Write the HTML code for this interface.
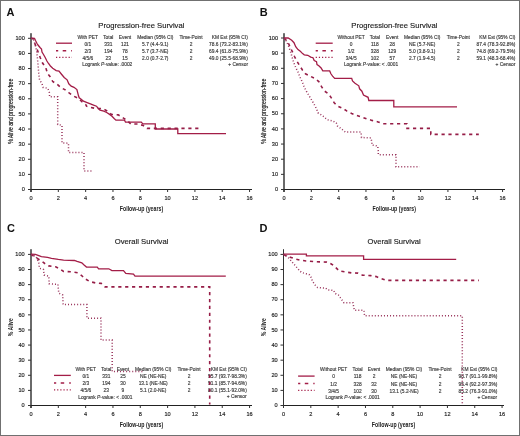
<!DOCTYPE html>
<html><head><meta charset="utf-8"><style>
html,body{margin:0;padding:0;background:#fff;}
body{width:520px;height:436px;overflow:hidden;}
svg{display:block;font-family:"Liberation Sans",sans-serif;will-change:transform;}
</style></head><body>
<svg width="520" height="436" viewBox="0 0 520 436">
<g >
<rect x="0" y="0" width="520" height="436" fill="#fff"/>
<rect x="30.00" y="33.2" width="2.0" height="158.80" fill="#6a6a6a"/>
<rect x="31.00" y="189.00" width="221.00" height="1" fill="#222"/>
<rect x="28.00" y="189.00" width="3" height="1" fill="#333"/>
<text x="24.8" y="191.20" text-anchor="end" font-size="5.6" fill="#222" stroke="#222" stroke-width="0.15">0</text>
<rect x="28.00" y="173.88" width="3" height="1" fill="#333"/>
<text x="24.8" y="176.08" text-anchor="end" font-size="5.6" fill="#222" stroke="#222" stroke-width="0.15">10</text>
<rect x="28.00" y="158.76" width="3" height="1" fill="#333"/>
<text x="24.8" y="160.96" text-anchor="end" font-size="5.6" fill="#222" stroke="#222" stroke-width="0.15">20</text>
<rect x="28.00" y="143.64" width="3" height="1" fill="#333"/>
<text x="24.8" y="145.84" text-anchor="end" font-size="5.6" fill="#222" stroke="#222" stroke-width="0.15">30</text>
<rect x="28.00" y="128.52" width="3" height="1" fill="#333"/>
<text x="24.8" y="130.72" text-anchor="end" font-size="5.6" fill="#222" stroke="#222" stroke-width="0.15">40</text>
<rect x="28.00" y="113.40" width="3" height="1" fill="#333"/>
<text x="24.8" y="115.60" text-anchor="end" font-size="5.6" fill="#222" stroke="#222" stroke-width="0.15">50</text>
<rect x="28.00" y="98.28" width="3" height="1" fill="#333"/>
<text x="24.8" y="100.48" text-anchor="end" font-size="5.6" fill="#222" stroke="#222" stroke-width="0.15">60</text>
<rect x="28.00" y="83.16" width="3" height="1" fill="#333"/>
<text x="24.8" y="85.36" text-anchor="end" font-size="5.6" fill="#222" stroke="#222" stroke-width="0.15">70</text>
<rect x="28.00" y="68.04" width="3" height="1" fill="#333"/>
<text x="24.8" y="70.24" text-anchor="end" font-size="5.6" fill="#222" stroke="#222" stroke-width="0.15">80</text>
<rect x="28.00" y="52.92" width="3" height="1" fill="#333"/>
<text x="24.8" y="55.12" text-anchor="end" font-size="5.6" fill="#222" stroke="#222" stroke-width="0.15">90</text>
<rect x="28.00" y="37.80" width="3" height="1" fill="#333"/>
<text x="24.8" y="40.00" text-anchor="end" font-size="5.6" fill="#222" stroke="#222" stroke-width="0.15">100</text>
<rect x="30.50" y="189.50" width="1" height="2.5" fill="#333"/>
<text x="31.00" y="200.30" text-anchor="middle" font-size="5.6" fill="#222" stroke="#222" stroke-width="0.15">0</text>
<rect x="57.82" y="189.50" width="1" height="2.5" fill="#333"/>
<text x="58.32" y="200.30" text-anchor="middle" font-size="5.6" fill="#222" stroke="#222" stroke-width="0.15">2</text>
<rect x="85.14" y="189.50" width="1" height="2.5" fill="#333"/>
<text x="85.64" y="200.30" text-anchor="middle" font-size="5.6" fill="#222" stroke="#222" stroke-width="0.15">4</text>
<rect x="112.46" y="189.50" width="1" height="2.5" fill="#333"/>
<text x="112.96" y="200.30" text-anchor="middle" font-size="5.6" fill="#222" stroke="#222" stroke-width="0.15">6</text>
<rect x="139.78" y="189.50" width="1" height="2.5" fill="#333"/>
<text x="140.28" y="200.30" text-anchor="middle" font-size="5.6" fill="#222" stroke="#222" stroke-width="0.15">8</text>
<rect x="167.10" y="189.50" width="1" height="2.5" fill="#333"/>
<text x="167.60" y="200.30" text-anchor="middle" font-size="5.6" fill="#222" stroke="#222" stroke-width="0.15">10</text>
<rect x="194.42" y="189.50" width="1" height="2.5" fill="#333"/>
<text x="194.92" y="200.30" text-anchor="middle" font-size="5.6" fill="#222" stroke="#222" stroke-width="0.15">12</text>
<rect x="221.74" y="189.50" width="1" height="2.5" fill="#333"/>
<text x="222.24" y="200.30" text-anchor="middle" font-size="5.6" fill="#222" stroke="#222" stroke-width="0.15">14</text>
<rect x="249.06" y="189.50" width="1" height="2.5" fill="#333"/>
<text x="249.56" y="200.30" text-anchor="middle" font-size="5.6" fill="#222" stroke="#222" stroke-width="0.15">16</text>
<text x="98.3" y="28" font-size="7.8" fill="#222" stroke="#222" stroke-width="0.15" textLength="86.1" lengthAdjust="spacingAndGlyphs">Progression-free Survival</text>
<text x="6.5" y="15.8" font-size="11" font-weight="bold" fill="#111">A</text>
<text transform="translate(13.00,111.30) rotate(-90) scale(0.73,1)" text-anchor="middle" font-size="7" stroke="#222" stroke-width="0.22" fill="#222">% Alive and progression-free</text>
<text transform="translate(141.45,211.30) scale(0.75,1)" text-anchor="middle" font-size="7" font-weight="bold" fill="#222">Follow-up (years)</text>
<g font-size="4.85" fill="#3c3c3c" stroke="#3c3c3c" stroke-width="0.15" text-anchor="middle">
<text x="87.8" y="39.00">With PET</text>
<text x="108.3" y="39.00">Total</text>
<text x="125.0" y="39.00">Event</text>
<text x="155.3" y="39.00">Median (95% CI)</text>
<text x="191.0" y="39.00">Time-Point</text>
<text x="247.8" y="39.00" text-anchor="end">KM Est (95% CI)</text>
<text x="87.8" y="46.00">0/1</text>
<text x="108.3" y="46.00">331</text>
<text x="125.0" y="46.00">121</text>
<text x="155.3" y="46.00">5.7 (4.4-9.1)</text>
<text x="191.0" y="46.00">2</text>
<text x="247.8" y="46.00" text-anchor="end">78.6 (73.2-83.1%)</text>
<text x="87.8" y="53.00">2/3</text>
<text x="108.3" y="53.00">194</text>
<text x="125.0" y="53.00">78</text>
<text x="155.3" y="53.00">5.7 (3.7-NE)</text>
<text x="191.0" y="53.00">2</text>
<text x="247.8" y="53.00" text-anchor="end">69.4 (61.8-75.9%)</text>
<text x="87.8" y="60.00">4/5/6</text>
<text x="108.3" y="60.00">23</text>
<text x="125.0" y="60.00">15</text>
<text x="155.3" y="60.00">2.0 (0.7-2.7)</text>
<text x="191.0" y="60.00">2</text>
<text x="247.8" y="60.00" text-anchor="end">49.0 (25.5-68.9%)</text>
<text x="82.2" y="66.00" text-anchor="start">Logrank <tspan font-style="italic">P</tspan>-value: .0002</text>
<text x="248.0" y="66" text-anchor="end">+ Censor</text>
</g>
<line x1="56" y1="43.2" x2="72" y2="43.2" stroke="#a31d47" stroke-width="1.3" fill="none" stroke-width="1.6"/>
<line x1="56" y1="50.7" x2="72" y2="50.7" stroke="#a31d47" stroke-width="1.5" stroke-dasharray="2.2 4.5 3.5 5 2" />
<line x1="56" y1="57.3" x2="72" y2="57.3" stroke="#a31d47" stroke-width="1.2" stroke-dasharray="1.2 1.95" />
<polyline points="31,38.3 34.5,38.3 35.5,40.5 37,43.5 38,45 40,47.5 41.5,49 42,52 43.5,54.5 45.2,57.5 46.9,61 48.5,63.5 50.4,66 52.7,68.3 56.2,70.6 59,71.2 61.3,74 64.2,77.5 67.1,79.8 68.8,83.8 71.2,86.2 74,87.3 76.9,89.6 78.5,95.8 79.2,97.8 81.2,99.3 83.5,101.2 86.5,102.4 90.4,103.9 93.5,105.1 96.5,106.2 98.1,108.2 100,110.1 103.8,111.1 106.7,112.5 109.6,114.4 112,116.3 114.4,118.8 115.9,120.2 124.5,120.2 125.5,122.1 141.3,122.1 142.8,123.9 155.3,123.9 155.3,129 177.8,129 177.8,133.7 226,133.7" stroke="#a31d47" stroke-width="1.3" fill="none"/>
<polyline points="31,38.3 33,38.5 34.4,42.5 36.5,47.7 38.3,52.5 40.3,57.7 42.4,62.8 45.8,67.7 47.5,73.5 50.4,76.9 52.7,81.5 57.3,84.4 61.3,87.9 64.8,89.6 69.4,93.1 73.5,96 78.1,98.3 81.9,101.6 85.8,104.7 86.5,106.2 90.8,107.4 95.8,108.5 103.4,108.7 107,111 111.5,114.4 118.3,114.9 123.1,117.8 127.4,120.7 130.8,124 138,124 143.3,125.5 147.1,128.4 199,128.4" stroke="#961d47" stroke-width="1.6" fill="none" stroke-dasharray="3.2 3.7"/>
<polyline points="31,38.3 32.5,38.5 33.7,39.7 35.1,44.8 36.6,50.7 37.4,58 38.1,65.4 38.8,74.2 39.6,80.1 41.8,83.1 43.2,87.5 47.6,88.2 49.3,91.9 49.6,96.8 57.7,96.8 57.7,124.4 61.2,125.2 62,125.2 62,142.9 68.5,143.2 68.5,152.5 84,152.5 84,171 92,171" stroke="#98325a" stroke-width="1.5" fill="none" stroke-dasharray="1 2.05"/>
<rect x="283.00" y="33.2" width="2.0" height="158.80" fill="#6a6a6a"/>
<rect x="284.00" y="189.00" width="221.00" height="1" fill="#222"/>
<rect x="281.00" y="189.00" width="3" height="1" fill="#333"/>
<text x="278.0" y="191.20" text-anchor="end" font-size="5.6" fill="#222" stroke="#222" stroke-width="0.15">0</text>
<rect x="281.00" y="173.85" width="3" height="1" fill="#333"/>
<text x="278.0" y="176.05" text-anchor="end" font-size="5.6" fill="#222" stroke="#222" stroke-width="0.15">10</text>
<rect x="281.00" y="158.70" width="3" height="1" fill="#333"/>
<text x="278.0" y="160.90" text-anchor="end" font-size="5.6" fill="#222" stroke="#222" stroke-width="0.15">20</text>
<rect x="281.00" y="143.55" width="3" height="1" fill="#333"/>
<text x="278.0" y="145.75" text-anchor="end" font-size="5.6" fill="#222" stroke="#222" stroke-width="0.15">30</text>
<rect x="281.00" y="128.40" width="3" height="1" fill="#333"/>
<text x="278.0" y="130.60" text-anchor="end" font-size="5.6" fill="#222" stroke="#222" stroke-width="0.15">40</text>
<rect x="281.00" y="113.25" width="3" height="1" fill="#333"/>
<text x="278.0" y="115.45" text-anchor="end" font-size="5.6" fill="#222" stroke="#222" stroke-width="0.15">50</text>
<rect x="281.00" y="98.10" width="3" height="1" fill="#333"/>
<text x="278.0" y="100.30" text-anchor="end" font-size="5.6" fill="#222" stroke="#222" stroke-width="0.15">60</text>
<rect x="281.00" y="82.95" width="3" height="1" fill="#333"/>
<text x="278.0" y="85.15" text-anchor="end" font-size="5.6" fill="#222" stroke="#222" stroke-width="0.15">70</text>
<rect x="281.00" y="67.80" width="3" height="1" fill="#333"/>
<text x="278.0" y="70.00" text-anchor="end" font-size="5.6" fill="#222" stroke="#222" stroke-width="0.15">80</text>
<rect x="281.00" y="52.65" width="3" height="1" fill="#333"/>
<text x="278.0" y="54.85" text-anchor="end" font-size="5.6" fill="#222" stroke="#222" stroke-width="0.15">90</text>
<rect x="281.00" y="37.50" width="3" height="1" fill="#333"/>
<text x="278.0" y="39.70" text-anchor="end" font-size="5.6" fill="#222" stroke="#222" stroke-width="0.15">100</text>
<rect x="283.50" y="189.50" width="1" height="2.5" fill="#333"/>
<text x="284.00" y="200.30" text-anchor="middle" font-size="5.6" fill="#222" stroke="#222" stroke-width="0.15">0</text>
<rect x="310.82" y="189.50" width="1" height="2.5" fill="#333"/>
<text x="311.32" y="200.30" text-anchor="middle" font-size="5.6" fill="#222" stroke="#222" stroke-width="0.15">2</text>
<rect x="338.14" y="189.50" width="1" height="2.5" fill="#333"/>
<text x="338.64" y="200.30" text-anchor="middle" font-size="5.6" fill="#222" stroke="#222" stroke-width="0.15">4</text>
<rect x="365.46" y="189.50" width="1" height="2.5" fill="#333"/>
<text x="365.96" y="200.30" text-anchor="middle" font-size="5.6" fill="#222" stroke="#222" stroke-width="0.15">6</text>
<rect x="392.78" y="189.50" width="1" height="2.5" fill="#333"/>
<text x="393.28" y="200.30" text-anchor="middle" font-size="5.6" fill="#222" stroke="#222" stroke-width="0.15">8</text>
<rect x="420.10" y="189.50" width="1" height="2.5" fill="#333"/>
<text x="420.60" y="200.30" text-anchor="middle" font-size="5.6" fill="#222" stroke="#222" stroke-width="0.15">10</text>
<rect x="447.42" y="189.50" width="1" height="2.5" fill="#333"/>
<text x="447.92" y="200.30" text-anchor="middle" font-size="5.6" fill="#222" stroke="#222" stroke-width="0.15">12</text>
<rect x="474.74" y="189.50" width="1" height="2.5" fill="#333"/>
<text x="475.24" y="200.30" text-anchor="middle" font-size="5.6" fill="#222" stroke="#222" stroke-width="0.15">14</text>
<rect x="502.06" y="189.50" width="1" height="2.5" fill="#333"/>
<text x="502.56" y="200.30" text-anchor="middle" font-size="5.6" fill="#222" stroke="#222" stroke-width="0.15">16</text>
<text x="351.3" y="28" font-size="7.8" fill="#222" stroke="#222" stroke-width="0.15" textLength="86.1" lengthAdjust="spacingAndGlyphs">Progression-free Survival</text>
<text x="259.8" y="15.8" font-size="11" font-weight="bold" fill="#111">B</text>
<text transform="translate(266.30,111.30) rotate(-90) scale(0.73,1)" text-anchor="middle" font-size="7" stroke="#222" stroke-width="0.22" fill="#222">% Alive and progression-free</text>
<text transform="translate(394.25,211.20) scale(0.75,1)" text-anchor="middle" font-size="7" font-weight="bold" fill="#222">Follow-up (years)</text>
<g font-size="4.85" fill="#3c3c3c" stroke="#3c3c3c" stroke-width="0.15" text-anchor="middle">
<text x="351.2" y="39.00">Without PET</text>
<text x="374.9" y="39.00">Total</text>
<text x="392.2" y="39.00">Event</text>
<text x="422.2" y="39.00">Median (95% CI)</text>
<text x="458.3" y="39.00">Time-Point</text>
<text x="515.4" y="39.00" text-anchor="end">KM Est (95% CI)</text>
<text x="351.2" y="46.00">0</text>
<text x="374.9" y="46.00">118</text>
<text x="392.2" y="46.00">28</text>
<text x="422.2" y="46.00">NE (5.7-NE)</text>
<text x="458.3" y="46.00">2</text>
<text x="515.4" y="46.00" text-anchor="end">87.4 (78.3-92.8%)</text>
<text x="351.2" y="53.00">1/2</text>
<text x="374.9" y="53.00">328</text>
<text x="392.2" y="53.00">129</text>
<text x="422.2" y="53.00">5.0 (3.8-9.1)</text>
<text x="458.3" y="53.00">2</text>
<text x="515.4" y="53.00" text-anchor="end">74.8 (69.2-79.5%)</text>
<text x="351.2" y="60.00">3/4/5</text>
<text x="374.9" y="60.00">102</text>
<text x="392.2" y="60.00">57</text>
<text x="422.2" y="60.00">2.7 (1.9-4.5)</text>
<text x="458.3" y="60.00">2</text>
<text x="515.4" y="60.00" text-anchor="end">59.1 (48.3-68.4%)</text>
<text x="343.9" y="66.00" text-anchor="start">Logrank <tspan font-style="italic">P</tspan>-value: < .0001</text>
<text x="515.4" y="66" text-anchor="end">+ Censor</text>
</g>
<line x1="315.7" y1="43.2" x2="332.7" y2="43.2" stroke="#a31d47" stroke-width="1.3" fill="none" stroke-width="1.6"/>
<line x1="315.7" y1="50.7" x2="332.7" y2="50.7" stroke="#a31d47" stroke-width="1.5" stroke-dasharray="2.2 4.5 3.5 5 2" />
<line x1="315.7" y1="57.4" x2="332.7" y2="57.4" stroke="#a31d47" stroke-width="1.2" stroke-dasharray="1.2 1.95" />
<polyline points="284,38 288.2,38 291.7,40.3 294,42.7 295.7,46.7 298,49.6 300.3,51.3 302.6,53.6 304.3,54.8 307.8,55.3 310.7,57.1 313,57.7 314.2,60.5 316.5,61.7 317,64.6 318.8,65.7 321.1,68 322.8,70.9 329.7,70.9 330.9,73.8 332.6,76.1 334.7,78.4 351.7,78.4 352.5,81 355,83.3 358.8,85.8 359.6,88.8 361.9,91.2 363.5,95 368.1,97.3 368.8,100.5 393.8,100.5 393.8,106.9 457,106.9" stroke="#a31d47" stroke-width="1.3" fill="none"/>
<polyline points="284,38 285.3,39.2 288.2,42.7 289.9,46.7 292.2,51.3 294.5,56.5 296.8,61.1 299.7,65.7 302.6,70.3 305.5,73.8 310.1,76.1 314.7,78.4 318.8,81.5 321.7,86.9 324.4,91 328.5,93.8 331.3,97.9 334.2,102.8 337.9,106.2 342.5,108.2 346.7,110.9 351.7,113.5 356.5,115.3 361.2,116.8 366.5,118.8 371.9,120.4 378.1,121.9 382.7,123.7 407,123.7 407,128.4 430.8,128.4 430.8,134.4 478.8,134.4" stroke="#961d47" stroke-width="1.6" fill="none" stroke-dasharray="3.2 3.7"/>
<polyline points="284,38 285.9,40.3 288.8,46.7 291.1,53.6 293.4,61.7 295.7,67.5 298,72.1 300.3,77.8 302.3,82 304.2,86.9 306.5,91.5 310,97.3 313.5,103.1 316.3,108.3 318.1,112.9 322.7,115.8 327.3,119.8 333.1,121 336.3,123 337.3,125.8 341.9,129.2 345.4,132.1 361,132.1 361.5,137.5 370.8,137.9 371.9,141.9 371.9,145 377.7,146 378.3,151.2 378.3,154.7 396,154.7 396,166.8 419.6,166.8" stroke="#98325a" stroke-width="1.5" fill="none" stroke-dasharray="1 2.05"/>
<rect x="30.00" y="249.2" width="2.0" height="158.80" fill="#6a6a6a"/>
<rect x="31.00" y="405.00" width="221.00" height="1" fill="#222"/>
<rect x="28.00" y="405.00" width="3" height="1" fill="#333"/>
<text x="24.7" y="407.20" text-anchor="end" font-size="5.6" fill="#222" stroke="#222" stroke-width="0.15">0</text>
<rect x="28.00" y="389.89" width="3" height="1" fill="#333"/>
<text x="24.7" y="392.09" text-anchor="end" font-size="5.6" fill="#222" stroke="#222" stroke-width="0.15">10</text>
<rect x="28.00" y="374.78" width="3" height="1" fill="#333"/>
<text x="24.7" y="376.98" text-anchor="end" font-size="5.6" fill="#222" stroke="#222" stroke-width="0.15">20</text>
<rect x="28.00" y="359.67" width="3" height="1" fill="#333"/>
<text x="24.7" y="361.87" text-anchor="end" font-size="5.6" fill="#222" stroke="#222" stroke-width="0.15">30</text>
<rect x="28.00" y="344.56" width="3" height="1" fill="#333"/>
<text x="24.7" y="346.76" text-anchor="end" font-size="5.6" fill="#222" stroke="#222" stroke-width="0.15">40</text>
<rect x="28.00" y="329.45" width="3" height="1" fill="#333"/>
<text x="24.7" y="331.65" text-anchor="end" font-size="5.6" fill="#222" stroke="#222" stroke-width="0.15">50</text>
<rect x="28.00" y="314.34" width="3" height="1" fill="#333"/>
<text x="24.7" y="316.54" text-anchor="end" font-size="5.6" fill="#222" stroke="#222" stroke-width="0.15">60</text>
<rect x="28.00" y="299.23" width="3" height="1" fill="#333"/>
<text x="24.7" y="301.43" text-anchor="end" font-size="5.6" fill="#222" stroke="#222" stroke-width="0.15">70</text>
<rect x="28.00" y="284.12" width="3" height="1" fill="#333"/>
<text x="24.7" y="286.32" text-anchor="end" font-size="5.6" fill="#222" stroke="#222" stroke-width="0.15">80</text>
<rect x="28.00" y="269.01" width="3" height="1" fill="#333"/>
<text x="24.7" y="271.21" text-anchor="end" font-size="5.6" fill="#222" stroke="#222" stroke-width="0.15">90</text>
<rect x="28.00" y="253.90" width="3" height="1" fill="#333"/>
<text x="24.7" y="256.10" text-anchor="end" font-size="5.6" fill="#222" stroke="#222" stroke-width="0.15">100</text>
<rect x="30.50" y="405.50" width="1" height="2.5" fill="#333"/>
<text x="31.00" y="416.30" text-anchor="middle" font-size="5.6" fill="#222" stroke="#222" stroke-width="0.15">0</text>
<rect x="57.82" y="405.50" width="1" height="2.5" fill="#333"/>
<text x="58.32" y="416.30" text-anchor="middle" font-size="5.6" fill="#222" stroke="#222" stroke-width="0.15">2</text>
<rect x="85.14" y="405.50" width="1" height="2.5" fill="#333"/>
<text x="85.64" y="416.30" text-anchor="middle" font-size="5.6" fill="#222" stroke="#222" stroke-width="0.15">4</text>
<rect x="112.46" y="405.50" width="1" height="2.5" fill="#333"/>
<text x="112.96" y="416.30" text-anchor="middle" font-size="5.6" fill="#222" stroke="#222" stroke-width="0.15">6</text>
<rect x="139.78" y="405.50" width="1" height="2.5" fill="#333"/>
<text x="140.28" y="416.30" text-anchor="middle" font-size="5.6" fill="#222" stroke="#222" stroke-width="0.15">8</text>
<rect x="167.10" y="405.50" width="1" height="2.5" fill="#333"/>
<text x="167.60" y="416.30" text-anchor="middle" font-size="5.6" fill="#222" stroke="#222" stroke-width="0.15">10</text>
<rect x="194.42" y="405.50" width="1" height="2.5" fill="#333"/>
<text x="194.92" y="416.30" text-anchor="middle" font-size="5.6" fill="#222" stroke="#222" stroke-width="0.15">12</text>
<rect x="221.74" y="405.50" width="1" height="2.5" fill="#333"/>
<text x="222.24" y="416.30" text-anchor="middle" font-size="5.6" fill="#222" stroke="#222" stroke-width="0.15">14</text>
<rect x="249.06" y="405.50" width="1" height="2.5" fill="#333"/>
<text x="249.56" y="416.30" text-anchor="middle" font-size="5.6" fill="#222" stroke="#222" stroke-width="0.15">16</text>
<text x="114.7" y="244" font-size="7.8" fill="#222" stroke="#222" stroke-width="0.15" textLength="53.7" lengthAdjust="spacingAndGlyphs">Overall Survival</text>
<text x="6.9" y="231.9" font-size="11" font-weight="bold" fill="#111">C</text>
<text transform="translate(13.00,327.20) rotate(-90) scale(0.73,1)" text-anchor="middle" font-size="7" font-weight="bold" fill="#222">% Alive</text>
<text transform="translate(141.45,427.30) scale(0.75,1)" text-anchor="middle" font-size="7" font-weight="bold" fill="#222">Follow-up (years)</text>
<g font-size="4.85" fill="#3c3c3c" stroke="#3c3c3c" stroke-width="0.15" text-anchor="middle">
<text x="85.8" y="371.00">With PET</text>
<text x="106.3" y="371.00">Total</text>
<text x="122.9" y="371.00">Event</text>
<text x="153.2" y="371.00">Median (95% CI)</text>
<text x="189.0" y="371.00">Time-Point</text>
<text x="246.8" y="371.00" text-anchor="end">KM Est (95% CI)</text>
<text x="85.8" y="378.00">0/1</text>
<text x="106.3" y="378.00">331</text>
<text x="122.9" y="378.00">25</text>
<text x="153.2" y="378.00">NE (NE-NE)</text>
<text x="189.0" y="378.00">2</text>
<text x="246.8" y="378.00" text-anchor="end">95.7 (93.7-98.3%)</text>
<text x="85.8" y="385.00">2/3</text>
<text x="106.3" y="385.00">194</text>
<text x="122.9" y="385.00">30</text>
<text x="153.2" y="385.00">13.1 (NE-NE)</text>
<text x="189.0" y="385.00">2</text>
<text x="246.8" y="385.00" text-anchor="end">91.1 (85.7-94.6%)</text>
<text x="85.8" y="392.00">4/5/6</text>
<text x="106.3" y="392.00">23</text>
<text x="122.9" y="392.00">9</text>
<text x="153.2" y="392.00">5.1 (2.0-NE)</text>
<text x="189.0" y="392.00">2</text>
<text x="246.8" y="392.00" text-anchor="end">80.1 (55.1-92.0%)</text>
<text x="78.2" y="399.00" text-anchor="start">Logrank <tspan font-style="italic">P</tspan>-value: < .0001</text>
<text x="246.6" y="398" text-anchor="end">+ Censor</text>
</g>
<line x1="54" y1="375.4" x2="70.8" y2="375.4" stroke="#a31d47" stroke-width="1.3" fill="none" stroke-width="1.6"/>
<line x1="54" y1="383.0" x2="70.8" y2="383.0" stroke="#a31d47" stroke-width="1.5" stroke-dasharray="2.2 4.5 3.5 5 2" />
<line x1="54" y1="389.8" x2="70.8" y2="389.8" stroke="#a31d47" stroke-width="1.2" stroke-dasharray="1.2 1.95" />
<polyline points="31,254.2 35.4,254.3 38.1,255.4 41.4,256.7 47.5,257.4 51.5,258.3 58.3,259.4 63.6,260.1 74.4,260.5 77.1,261.4 81.8,262.8 83.8,264.8 86.5,267.1 97.3,267.1 98.6,268.8 108.8,268.8 111.9,270.6 123.5,270.6 125.8,273.4 133.5,274.2 135,276.2 225.8,276.2" stroke="#a31d47" stroke-width="1.3" fill="none"/>
<polyline points="31,254.4 35.4,257.4 40.1,260.1 44.8,263.5 48.8,265.9 55.6,266.8 59.6,268.8 63.6,271.5 71.7,271.8 78.1,272.9 81.9,275.8 84.8,278.7 89.9,281.6 95.9,283 101.2,283.4 105,286.9 209.7,286.9 209.7,404.5" stroke="#961d47" stroke-width="1.6" fill="none" stroke-dasharray="3.2 3.7"/>
<polyline points="31,254.4 36.1,256.7 38.7,262.1 39.4,268.2 43.5,269.5 44.1,274.9 48.8,276.2 49.2,283.8 57.9,284.4 58.8,293.1 62.7,295 63.1,304.6 86.9,304.6 86.9,318.2 101,318.2 101,340.1 112.2,340.1 112.2,371.5 144.2,371.5" stroke="#98325a" stroke-width="1.5" fill="none" stroke-dasharray="1 2.05"/>
<rect x="283.00" y="249.2" width="1.0" height="158.80" fill="#333"/>
<rect x="283.50" y="405.00" width="220.50" height="1" fill="#222"/>
<rect x="280.50" y="405.00" width="3" height="1" fill="#333"/>
<text x="277.7" y="407.20" text-anchor="end" font-size="5.6" fill="#222" stroke="#222" stroke-width="0.15">0</text>
<rect x="280.50" y="389.89" width="3" height="1" fill="#333"/>
<text x="277.7" y="392.09" text-anchor="end" font-size="5.6" fill="#222" stroke="#222" stroke-width="0.15">10</text>
<rect x="280.50" y="374.78" width="3" height="1" fill="#333"/>
<text x="277.7" y="376.98" text-anchor="end" font-size="5.6" fill="#222" stroke="#222" stroke-width="0.15">20</text>
<rect x="280.50" y="359.67" width="3" height="1" fill="#333"/>
<text x="277.7" y="361.87" text-anchor="end" font-size="5.6" fill="#222" stroke="#222" stroke-width="0.15">30</text>
<rect x="280.50" y="344.56" width="3" height="1" fill="#333"/>
<text x="277.7" y="346.76" text-anchor="end" font-size="5.6" fill="#222" stroke="#222" stroke-width="0.15">40</text>
<rect x="280.50" y="329.45" width="3" height="1" fill="#333"/>
<text x="277.7" y="331.65" text-anchor="end" font-size="5.6" fill="#222" stroke="#222" stroke-width="0.15">50</text>
<rect x="280.50" y="314.34" width="3" height="1" fill="#333"/>
<text x="277.7" y="316.54" text-anchor="end" font-size="5.6" fill="#222" stroke="#222" stroke-width="0.15">60</text>
<rect x="280.50" y="299.23" width="3" height="1" fill="#333"/>
<text x="277.7" y="301.43" text-anchor="end" font-size="5.6" fill="#222" stroke="#222" stroke-width="0.15">70</text>
<rect x="280.50" y="284.12" width="3" height="1" fill="#333"/>
<text x="277.7" y="286.32" text-anchor="end" font-size="5.6" fill="#222" stroke="#222" stroke-width="0.15">80</text>
<rect x="280.50" y="269.01" width="3" height="1" fill="#333"/>
<text x="277.7" y="271.21" text-anchor="end" font-size="5.6" fill="#222" stroke="#222" stroke-width="0.15">90</text>
<rect x="280.50" y="253.90" width="3" height="1" fill="#333"/>
<text x="277.7" y="256.10" text-anchor="end" font-size="5.6" fill="#222" stroke="#222" stroke-width="0.15">100</text>
<rect x="283.00" y="405.50" width="1" height="2.5" fill="#333"/>
<text x="283.50" y="416.30" text-anchor="middle" font-size="5.6" fill="#222" stroke="#222" stroke-width="0.15">0</text>
<rect x="310.32" y="405.50" width="1" height="2.5" fill="#333"/>
<text x="310.82" y="416.30" text-anchor="middle" font-size="5.6" fill="#222" stroke="#222" stroke-width="0.15">2</text>
<rect x="337.64" y="405.50" width="1" height="2.5" fill="#333"/>
<text x="338.14" y="416.30" text-anchor="middle" font-size="5.6" fill="#222" stroke="#222" stroke-width="0.15">4</text>
<rect x="364.96" y="405.50" width="1" height="2.5" fill="#333"/>
<text x="365.46" y="416.30" text-anchor="middle" font-size="5.6" fill="#222" stroke="#222" stroke-width="0.15">6</text>
<rect x="392.28" y="405.50" width="1" height="2.5" fill="#333"/>
<text x="392.78" y="416.30" text-anchor="middle" font-size="5.6" fill="#222" stroke="#222" stroke-width="0.15">8</text>
<rect x="419.60" y="405.50" width="1" height="2.5" fill="#333"/>
<text x="420.10" y="416.30" text-anchor="middle" font-size="5.6" fill="#222" stroke="#222" stroke-width="0.15">10</text>
<rect x="446.92" y="405.50" width="1" height="2.5" fill="#333"/>
<text x="447.42" y="416.30" text-anchor="middle" font-size="5.6" fill="#222" stroke="#222" stroke-width="0.15">12</text>
<rect x="474.24" y="405.50" width="1" height="2.5" fill="#333"/>
<text x="474.74" y="416.30" text-anchor="middle" font-size="5.6" fill="#222" stroke="#222" stroke-width="0.15">14</text>
<rect x="501.56" y="405.50" width="1" height="2.5" fill="#333"/>
<text x="502.06" y="416.30" text-anchor="middle" font-size="5.6" fill="#222" stroke="#222" stroke-width="0.15">16</text>
<text x="367.5" y="244" font-size="7.8" fill="#222" stroke="#222" stroke-width="0.15" textLength="53.2" lengthAdjust="spacingAndGlyphs">Overall Survival</text>
<text x="259.4" y="231.7" font-size="11" font-weight="bold" fill="#111">D</text>
<text transform="translate(265.60,327.20) rotate(-90) scale(0.73,1)" text-anchor="middle" font-size="7" font-weight="bold" fill="#222">% Alive</text>
<text transform="translate(393.55,427.30) scale(0.75,1)" text-anchor="middle" font-size="7" font-weight="bold" fill="#222">Follow-up (years)</text>
<g font-size="4.85" fill="#3c3c3c" stroke="#3c3c3c" stroke-width="0.15" text-anchor="middle">
<text x="333.6" y="371.00">Without PET</text>
<text x="357.6" y="371.00">Total</text>
<text x="374.0" y="371.00">Event</text>
<text x="404.0" y="371.00">Median (95% CI)</text>
<text x="440.0" y="371.00">Time-Point</text>
<text x="497.4" y="371.00" text-anchor="end">KM Est (95% CI)</text>
<text x="333.6" y="378.00">0</text>
<text x="357.6" y="378.00">118</text>
<text x="374.0" y="378.00">2</text>
<text x="404.0" y="378.00">NE (NE-NE)</text>
<text x="440.0" y="378.00">2</text>
<text x="497.4" y="378.00" text-anchor="end">98.7 (91.1-99.8%)</text>
<text x="333.6" y="386.00">1/2</text>
<text x="357.6" y="386.00">328</text>
<text x="374.0" y="386.00">32</text>
<text x="404.0" y="386.00">NE (NE-NE)</text>
<text x="440.0" y="386.00">2</text>
<text x="497.4" y="386.00" text-anchor="end">95.4 (92.2-97.3%)</text>
<text x="333.6" y="393.00">3/4/5</text>
<text x="357.6" y="393.00">102</text>
<text x="374.0" y="393.00">30</text>
<text x="404.0" y="393.00">13.1 (5.2-NE)</text>
<text x="440.0" y="393.00">2</text>
<text x="497.4" y="393.00" text-anchor="end">85.2 (76.3-91.0%)</text>
<text x="325.5" y="399.00" text-anchor="start">Logrank <tspan font-style="italic">P</tspan>-value: < .0001</text>
<text x="497.2" y="399" text-anchor="end">+ Censor</text>
</g>
<line x1="298.1" y1="376.1" x2="314.6" y2="376.1" stroke="#a31d47" stroke-width="1.3" fill="none" stroke-width="1.6"/>
<line x1="298.1" y1="383.5" x2="314.6" y2="383.5" stroke="#a31d47" stroke-width="1.5" stroke-dasharray="2.2 4.5 3.5 5 2" />
<line x1="298.1" y1="390.4" x2="314.6" y2="390.4" stroke="#a31d47" stroke-width="1.2" stroke-dasharray="1.2 1.95" />
<polyline points="283.5,254.1 306.4,254.1 306.4,255.8 363.6,255.8 363.6,259.3 456.2,259.3" stroke="#a31d47" stroke-width="1.3" fill="none"/>
<polyline points="283.5,254.4 286.5,256.3 291.1,257.5 294.5,258.7 300.3,260.2 306.1,261 313,261.5 319.9,261.9 326.8,262.1 330.9,263.8 333.8,265.6 336.1,267.9 339.3,271 344.6,271.8 351.5,272.9 357.7,273.1 362.5,275.2 370.8,275.6 376.3,276.6 381.1,278.6 386.6,280.4 478.8,280.4" stroke="#961d47" stroke-width="1.6" fill="none" stroke-dasharray="3.2 3.7"/>
<polyline points="283.5,254.4 285.3,254.6 288.8,258.1 292.2,262.1 295.7,266.2 299.2,270.2 301.5,272.5 306.1,273.7 309.5,274.8 311.3,277.7 312.4,281.2 315.3,285.2 317.6,287.5 325.7,288.1 327.4,289.8 333.8,290.4 334.9,293.3 338.4,295 340.5,297.9 343.9,302.7 352.9,302.7 354.3,310.3 363.9,310.3 364.6,315.8 462.3,315.8 462.3,405" stroke="#98325a" stroke-width="1.5" fill="none" stroke-dasharray="1 2.05"/>
<rect x="0.5" y="0.5" width="519" height="435" fill="none" stroke="#707070" stroke-width="1"/>
</g>
</svg>
</body></html>
